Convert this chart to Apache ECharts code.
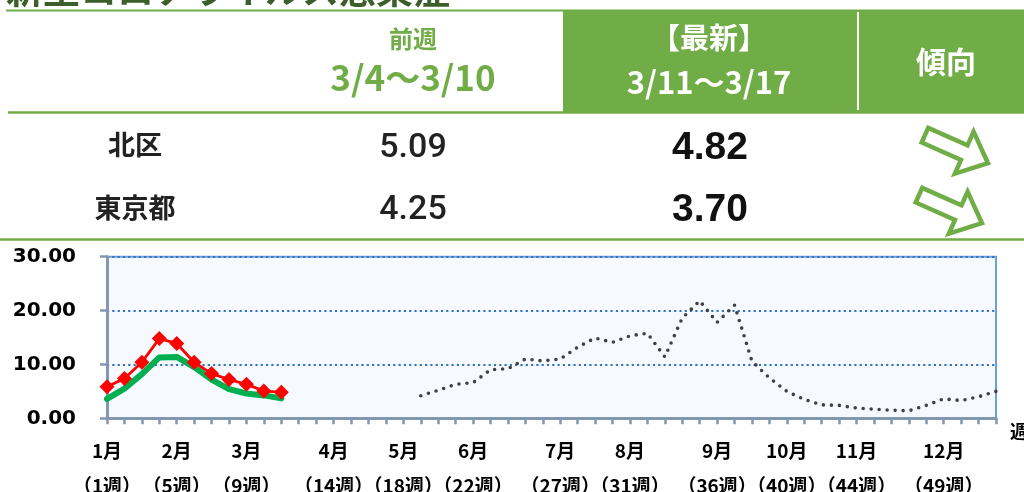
<!DOCTYPE html>
<html>
<head>
<meta charset="utf-8">
<script src="https://cdn.jsdelivr.net/npm/echarts@6/dist/echarts.min.js"></script>
<style>
html,body{margin:0;padding:0;background:#fff;overflow:hidden;}
#chart{width:1024px;height:492px;}
</style>
</head>
<body>
<div id="chart"></div>
<script>
// ---- data ----
var weeks = ['1','2','3','4','5','6','7','8','9','10','11','12','13','14','15','16','17','18','19','20','21','22','23','24','25','26',
             '27','28','29','30','31','32','33','34','35','36','37','38','39','40','41','42','43','44','45','46','47','48','49','50','51','52'];
var labelWeeks  = ['1','5','9','14','18','22','27','31','36','40','44','49'];
var labelMonths = ['1月','2月','3月','4月','5月','6月','7月','8月','9月','10月','11月','12月'];
var yTicks = [0, 10, 20, 30];

// 北区 (this season, weeks 1-11)
var kita  = [5.85, 7.4, 10.4, 14.8, 13.9, 10.4, 8.3, 7.2, 6.3, 5.09, 4.82];
// 東京都 (this season, weeks 1-11)
var tokyo = [3.6, 5.5, 8.2, 11.3, 11.4, 9.5, 7.2, 5.4, 4.6, 4.25, 3.70];
// previous year (weeks 19-52)
var prevStartWeek = 19;
var prevYear = [4.2, 5.2, 6.3, 6.6, 9.0, 9.2, 11.0, 10.65, 11.0, 13.2, 14.9, 14.1, 15.3, 15.8, 11.4, 18.6, 21.8, 17.8, 21.0,
                10.6, 7.5, 5.0, 3.5, 2.5, 2.4, 1.9, 1.7, 1.5, 1.4, 2.4, 3.6, 3.3, 4.0, 5.0];

// table texts
var rowNames = ['北区', '東京都'];
var prevPeriod = '3/4〜3/10';
var lastPeriod = '3/11〜3/17';
var titleText = '新型コロナウイルス感染症';

// ---- build series arrays ----
function padSeries(vals, start){
  var out = [];
  for (var i = 0; i < weeks.length; i++){
    var k = i - (start - 1);
    out.push(k >= 0 && k < vals.length ? vals[k] : null);
  }
  return out;
}
var kitaData  = padSeries(kita, 1);
var tokyoData = padSeries(tokyo, 1);
var prevData  = padSeries(prevYear, prevStartWeek);

var n = kita.length;
var tableVals = [
  [kita[n-2].toFixed(2),  kita[n-1].toFixed(2)],
  [tokyo[n-2].toFixed(2), tokyo[n-1].toFixed(2)]
];

var G = '#70AD47';
var CJK = '"Noto Sans CJK JP", "Noto Sans", sans-serif';
var NUM = 'Roboto, "Liberation Sans", Arial, sans-serif';
var arrowPts = [[-34,-8],[9,-8],[9,-23],[35,0],[9,23],[9,8],[-34,8]];

var graphics = [
  {type:'text', x:6, y:8, z:10, style:{text:titleText, font:'bold 37px ' + CJK, fill:'#3b5e2b', verticalAlign:'bottom'}},
  {type:'line', z:10, shape:{x1:6, y1:10.5, x2:1024, y2:10.5}, style:{stroke:G, lineWidth:2}},
  {type:'rect', z:10, shape:{x:563, y:11, width:461, height:101}, style:{fill:G}},
  {type:'line', z:11, shape:{x1:858, y1:12, x2:858, y2:110}, style:{stroke:'#ffffff', lineWidth:2}},
  {type:'line', z:10, shape:{x1:8, y1:112.5, x2:1024, y2:112.5}, style:{stroke:G, lineWidth:2.5}},
  {type:'line', z:10, shape:{x1:0, y1:239.5, x2:1024, y2:239.5}, style:{stroke:G, lineWidth:2.5}},

  {type:'text', z:12, x:413, y:39, style:{text:'前週', font:'bold 24px ' + CJK, fill:G, align:'center', verticalAlign:'middle'}},
  {type:'text', z:12, x:413, y:78, style:{text:prevPeriod, font:'bold 35px ' + CJK, fill:G, align:'center', verticalAlign:'middle'}},
  {type:'text', z:12, x:709, y:38, style:{text:'【最新】', font:'bold 29px ' + CJK, fill:'#ffffff', align:'center', verticalAlign:'middle'}},
  {type:'text', z:12, x:709, y:82, style:{text:lastPeriod, font:'bold 31px ' + CJK, fill:'#ffffff', align:'center', verticalAlign:'middle'}},
  {type:'text', z:12, x:946, y:62, style:{text:'傾向', font:'bold 30px ' + CJK, fill:'#ffffff', align:'center', verticalAlign:'middle'}},

  {type:'text', z:12, x:135, y:145, style:{text:rowNames[0], font:'bold 27px ' + CJK, fill:'#222', align:'center', verticalAlign:'middle'}},
  {type:'text', z:12, x:135, y:208, style:{text:rowNames[1], font:'bold 27px ' + CJK, fill:'#222', align:'center', verticalAlign:'middle'}},
  {type:'text', z:12, x:413, y:148, style:{text:tableVals[0][0], font:'500 34px ' + NUM, fill:'#222', align:'center', verticalAlign:'middle'}},
  {type:'text', z:12, x:413, y:210, style:{text:tableVals[1][0], font:'500 34px ' + NUM, fill:'#222', align:'center', verticalAlign:'middle'}},
  {type:'text', z:12, x:710, y:148, style:{text:tableVals[0][1], font:'bold 39px "Liberation Sans", Arial, sans-serif', fill:'#111', align:'center', verticalAlign:'middle'}},
  {type:'text', z:12, x:710, y:210, style:{text:tableVals[1][1], font:'bold 39px "Liberation Sans", Arial, sans-serif', fill:'#111', align:'center', verticalAlign:'middle'}},

  {type:'polygon', z:12, x:956, y:149, rotation:-24*Math.PI/180, shape:{points:arrowPts}, style:{fill:'#ffffff', stroke:G, lineWidth:4.5, lineJoin:'miter'}},
  {type:'polygon', z:12, x:950, y:209, rotation:-24*Math.PI/180, shape:{points:arrowPts}, style:{fill:'#ffffff', stroke:G, lineWidth:4.5, lineJoin:'miter'}}
];

var AX = '#8497b0';
var chart = echarts.init(document.getElementById('chart'), null, {renderer:'canvas'});
chart.setOption({
  animation:false,
  backgroundColor:'#ffffff',
  graphic: graphics,
  grid:{left:107, right:28, top:256.7, bottom:73.7, outerBoundsMode:'none', containLabel:false,
        show:true, backgroundColor:'#f6fafe', borderColor:'#6e9ddb', borderWidth:2},
  xAxis:{
    type:'category', data:weeks, boundaryGap:false,
    name:'週', nameLocation:'end', nameGap:14,
    nameTextStyle:{fontFamily:CJK, fontWeight:'bold', fontSize:19, color:'#000', verticalAlign:'top', padding:[4,0,0,0]},
    axisLine:{show:true, lineStyle:{color:AX, width:3}},
    axisTick:{show:true, interval:0, length:6, lineStyle:{color:AX, width:2.5}},
    axisLabel:{
      interval:function(i, v){ return labelWeeks.indexOf(v) >= 0; },
      formatter:function(v){ var k = labelWeeks.indexOf(v); return labelMonths[k] + '\n（' + v + '週）'; },
      fontFamily:CJK, fontWeight:'bold', fontSize:19, color:'#000', lineHeight:35, margin:14.5,
      hideOverlap:false
    },
    splitLine:{show:false}
  },
  yAxis:{
    type:'value', min:yTicks[0], max:yTicks[yTicks.length-1], interval:yTicks[1]-yTicks[0],
    axisLine:{show:true, lineStyle:{color:AX, width:3}},
    axisTick:{show:true, length:7, lineStyle:{color:AX, width:2.5}},
    axisLabel:{formatter:function(v){ return v.toFixed(2); }, fontFamily:'"DejaVu Sans", Verdana, sans-serif', fontWeight:'bold', fontSize:20, color:'#000', margin:31},
    splitLine:{show:true, lineStyle:{color:'#2f75c0', type:[2.2,3.1], width:2.2}}
  },
  series:[
    {name:'前年', type:'line', data:prevData, symbol:'none', connectNulls:false, z:2,
     lineStyle:{color:'#404040', width:3.6, type:[0,8], cap:'round'}},
    {name:'東京都', type:'line', data:tokyoData, symbol:'none', z:3,
     lineStyle:{color:'#00b050', width:6, join:'round', cap:'round'}},
    {name:'北区', type:'line', data:kitaData, symbol:'diamond', symbolSize:15, showAllSymbol:true, z:4,
     itemStyle:{color:'#ff0000'}, lineStyle:{color:'#ff0000', width:2.8}}
  ]
});
</script>
</body>
</html>
